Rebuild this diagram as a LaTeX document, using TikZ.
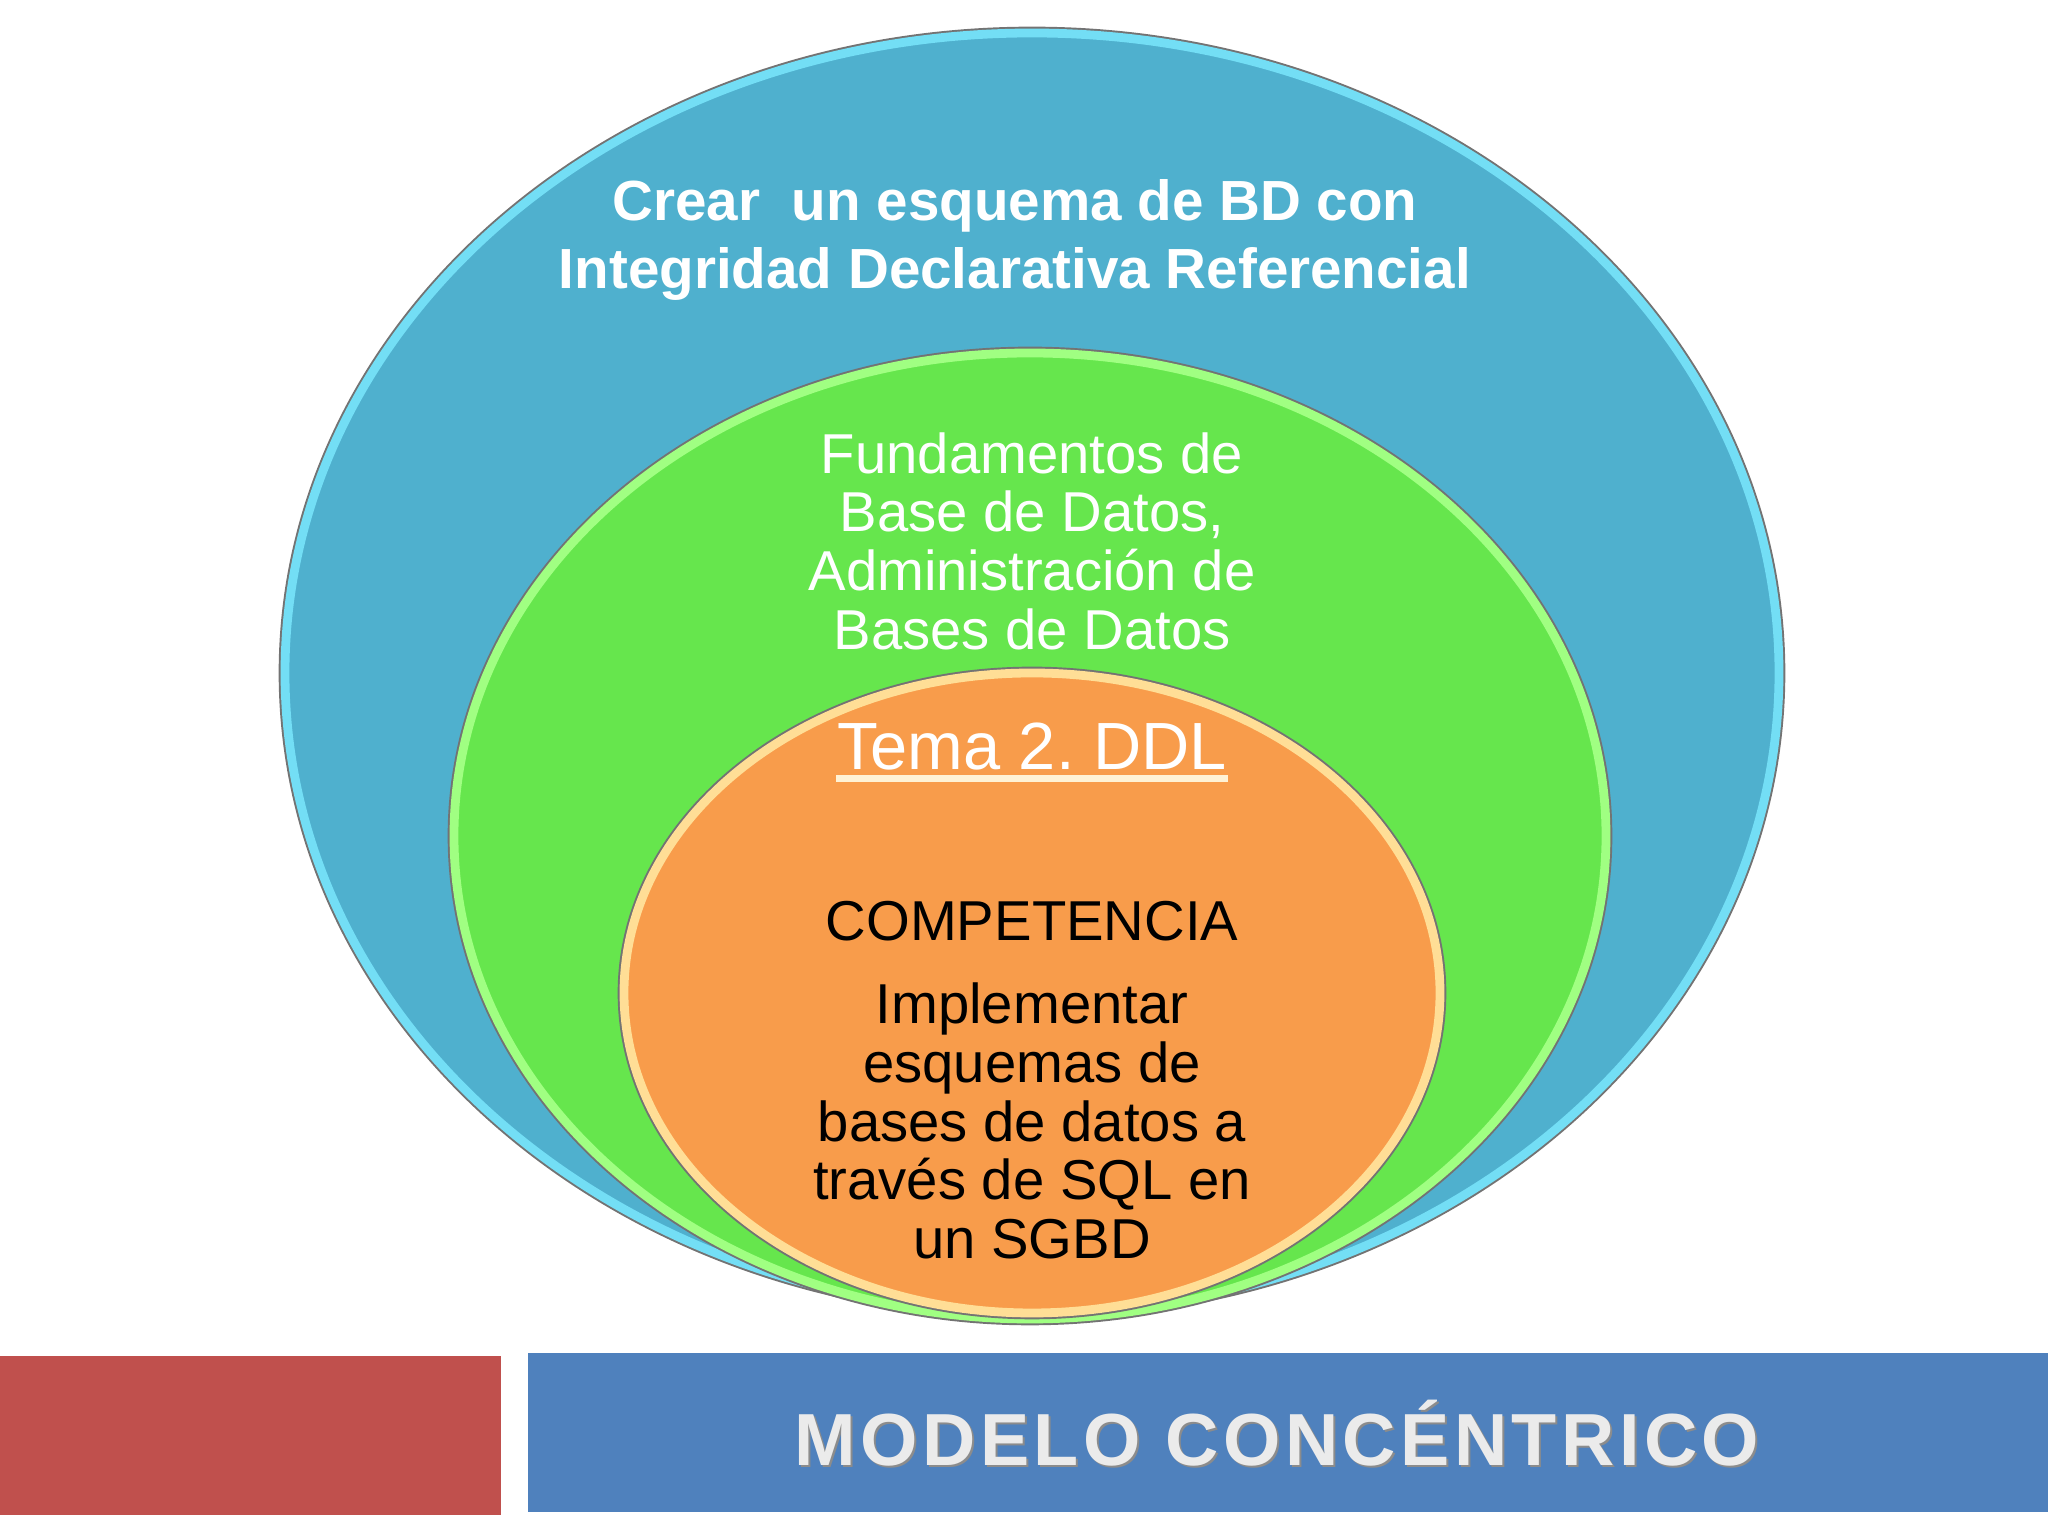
\documentclass[tikz,border=0pt]{standalone}
\usepackage{fontspec}
\setmainfont{Liberation Sans}
\newfontfamily\barfont[LetterSpace=6]{Liberation Sans}
\usepackage{xcolor}
\usetikzlibrary{positioning, shapes.geometric}

\definecolor{capablue}{RGB}{79,176,206}
\definecolor{capagreen}{RGB}{102,230,77}
\definecolor{capaorange}{RGB}{248,156,75}
\definecolor{rimblue}{RGB}{115,222,245}
\definecolor{rimgreen}{RGB}{160,255,130}
\definecolor{rimorange}{RGB}{255,222,150}
\definecolor{barred}{RGB}{192,80,77}
\definecolor{barblue}{RGB}{79,129,189}

\begin{document}
\frenchspacing
\begin{tikzpicture}[
    capa/.style={ellipse, inner sep=0pt, fill=#1},
    rim/.style={draw=#1, line width=2.5pt, preaction={draw=black!55, line width=3.6pt}},
    lbl/.style={align=center, inner sep=0pt, text=white},
    body/.style={font=\fontsize{16}{16.7}\selectfont},
    bartxt/.style={inner sep=0pt, font=\barfont\bfseries\fontsize{21}{22}\selectfont},
]
    \useasboundingbox (0,0) rectangle (20.48,15.36);

    % circulos concentricos
    \node[capa=capablue, rim=rimblue, minimum width=14.94cm, minimum height=12.80cm] (externo) at (10.32,8.63) {};
    \node[capa=capagreen, rim=rimgreen, minimum width=11.52cm, minimum height=9.66cm] (medio) at (10.30,7.00) {};
    \node[capa=capaorange, rim=rimorange, minimum width=8.16cm, minimum height=6.40cm] (interno) at (10.32,5.43) {};

    % textos
    \node[lbl, font=\bfseries\fontsize{16.1}{19.3}\selectfont] (meta) at (10.15,12.96)
        {Crear\ \ un esquema de BD con\\Integridad Declarativa Referencial};
    \node[lbl, body] (materias) at (10.32,9.95)
        {Fundamentos de\\Base de Datos,\\Administración de\\Bases de Datos};
    \node[lbl, font=\fontsize{19}{19}\selectfont] (tema) at (10.32,7.89) {Tema 2. DDL};
    \draw[line width=2pt, rimorange!40!white] ([yshift=-0.09cm]tema.base west) -- ([yshift=-0.09cm]tema.base east);
    \node[lbl, body, text=black] (comp) at (10.32,6.15) {COMPETENCIA};
    \node[lbl, body, text=black] (impl) at (10.32,4.15)
        {Implementar\\esquemas de\\bases de datos a\\través de SQL en\\un SGBD};

    % barra inferior
    \fill[barred] (0,0.21) rectangle (5.01,1.80);
    \fill[barblue] (5.28,0.24) rectangle (20.48,1.83);
    \node[bartxt, text=black!45] at (12.79,1.01) {MODELO CONCÉNTRICO};
    \node[bartxt, text=black!8] (titulo) at (12.77,1.03) {MODELO CONCÉNTRICO};
\end{tikzpicture}
\end{document}
